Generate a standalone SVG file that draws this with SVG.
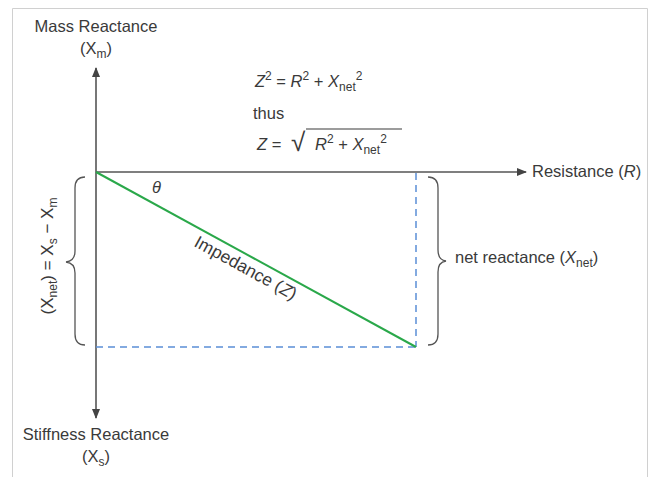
<svg xmlns="http://www.w3.org/2000/svg" width="650" height="477" viewBox="0 0 650 477">
<style>
.t{font-family:"Liberation Sans",Arial,sans-serif;font-size:16.5px;fill:#3a3a3a}
.s{font-size:12px}
.i{font-style:italic}
.axis{stroke:#555;stroke-width:1.6;fill:none}
.brace{stroke:#555;stroke-width:1.3;fill:none}
.dash{stroke:#5b8fd6;stroke-width:1.5;stroke-dasharray:7 5;fill:none}
.imp{stroke:#2aa84a;stroke-width:2;fill:none}
</style>
<defs>
<marker id="ah" viewBox="0 0 10 10" refX="9" refY="5" markerWidth="10" markerHeight="10" markerUnits="userSpaceOnUse" orient="auto">
<path d="M0,1 L10,5 L0,9 Z" fill="#444"/>
</marker>
</defs>
<rect width="650" height="477" fill="#fff"/>
<path d="M12.5,477 V8.5 H647.5 V477" stroke="#d0d0d0" stroke-width="1" fill="none"/>
<g id="connectors">
<line class="axis" x1="96" y1="172" x2="96" y2="68" marker-end="url(#ah)"/>
<line class="axis" x1="96" y1="172" x2="96" y2="418" marker-end="url(#ah)"/>
<line class="axis" x1="96" y1="172" x2="526" y2="172" marker-end="url(#ah)"/>
<path class="dash" d="M416,173 V347 M96,347 H416"/>
<line class="imp" x1="96" y1="172" x2="416" y2="347"/>
<path class="brace" d="M85,177 Q75,177 75,188 L75,251 Q75,261 66,262 Q75,263 75,273 L75,334 Q75,345 85,345"/>
<path class="brace" d="M428,177 Q438,177 438,188 L438,250 Q438,260 446,261 Q438,262 438,272 L438,334 Q438,345 428,345"/>
</g>
<g id="mass">
<text class="t" x="96" y="32" text-anchor="middle">Mass Reactance</text>
<text class="t" x="96" y="54" text-anchor="middle">(X<tspan class="s" dy="4">m</tspan><tspan dy="-4">)</tspan></text>
</g>
<g id="stiffness">
<text class="t" x="96" y="440" text-anchor="middle">Stiffness Reactance</text>
<text class="t" x="96" y="462" text-anchor="middle">(X<tspan class="s" dy="4">s</tspan><tspan dy="-4">)</tspan></text>
</g>
<g id="resistance">
<text class="t" x="532" y="177">Resistance (<tspan class="i">R</tspan>)</text>
</g>
<g id="net">
<text class="t" x="455" y="263">net reactance (<tspan class="i">X</tspan><tspan class="s" dy="4">net</tspan><tspan dy="-4">)</tspan></text>
</g>
<g id="xnet">
<text class="t" transform="translate(53,256) rotate(-90)" text-anchor="middle" style="font-size:17px">(X<tspan class="s" dy="4">net</tspan><tspan dy="-4">) = X</tspan><tspan class="s" dy="4">s</tspan><tspan dy="-4"> − X</tspan><tspan class="s" dy="4">m</tspan></text>
</g>
<g id="theta">
<text class="t i" x="152" y="193">θ</text>
</g>
<g id="impedance">
<text class="t" transform="translate(243,273) rotate(28.7)" text-anchor="middle" style="font-size:17.5px">Impedance (<tspan class="i">Z</tspan>)</text>
</g>
<g id="formula">
<text class="t" x="255" y="87"><tspan class="i">Z</tspan><tspan class="s" dy="-7">2</tspan><tspan dy="7"> = </tspan><tspan class="i">R</tspan><tspan class="s" dy="-7">2</tspan><tspan dy="7"> + </tspan><tspan class="i">X</tspan><tspan class="s" dy="4">net</tspan><tspan class="s" dy="-11">2</tspan></text>
<text class="t" x="253" y="119">thus</text>
<text class="t" x="257" y="150"><tspan class="i">Z</tspan> =</text>
<text class="t" x="291" y="151" style="font-size:26px">√</text>
<line x1="306" y1="129" x2="402" y2="129" stroke="#3a3a3a" stroke-width="1.2"/>
<text class="t" x="315" y="150"><tspan class="i">R</tspan><tspan class="s" dy="-7">2</tspan><tspan dy="7"> + </tspan><tspan class="i">X</tspan><tspan class="s" dy="4">net</tspan><tspan class="s" dy="-11">2</tspan></text>
</g>
</svg>
